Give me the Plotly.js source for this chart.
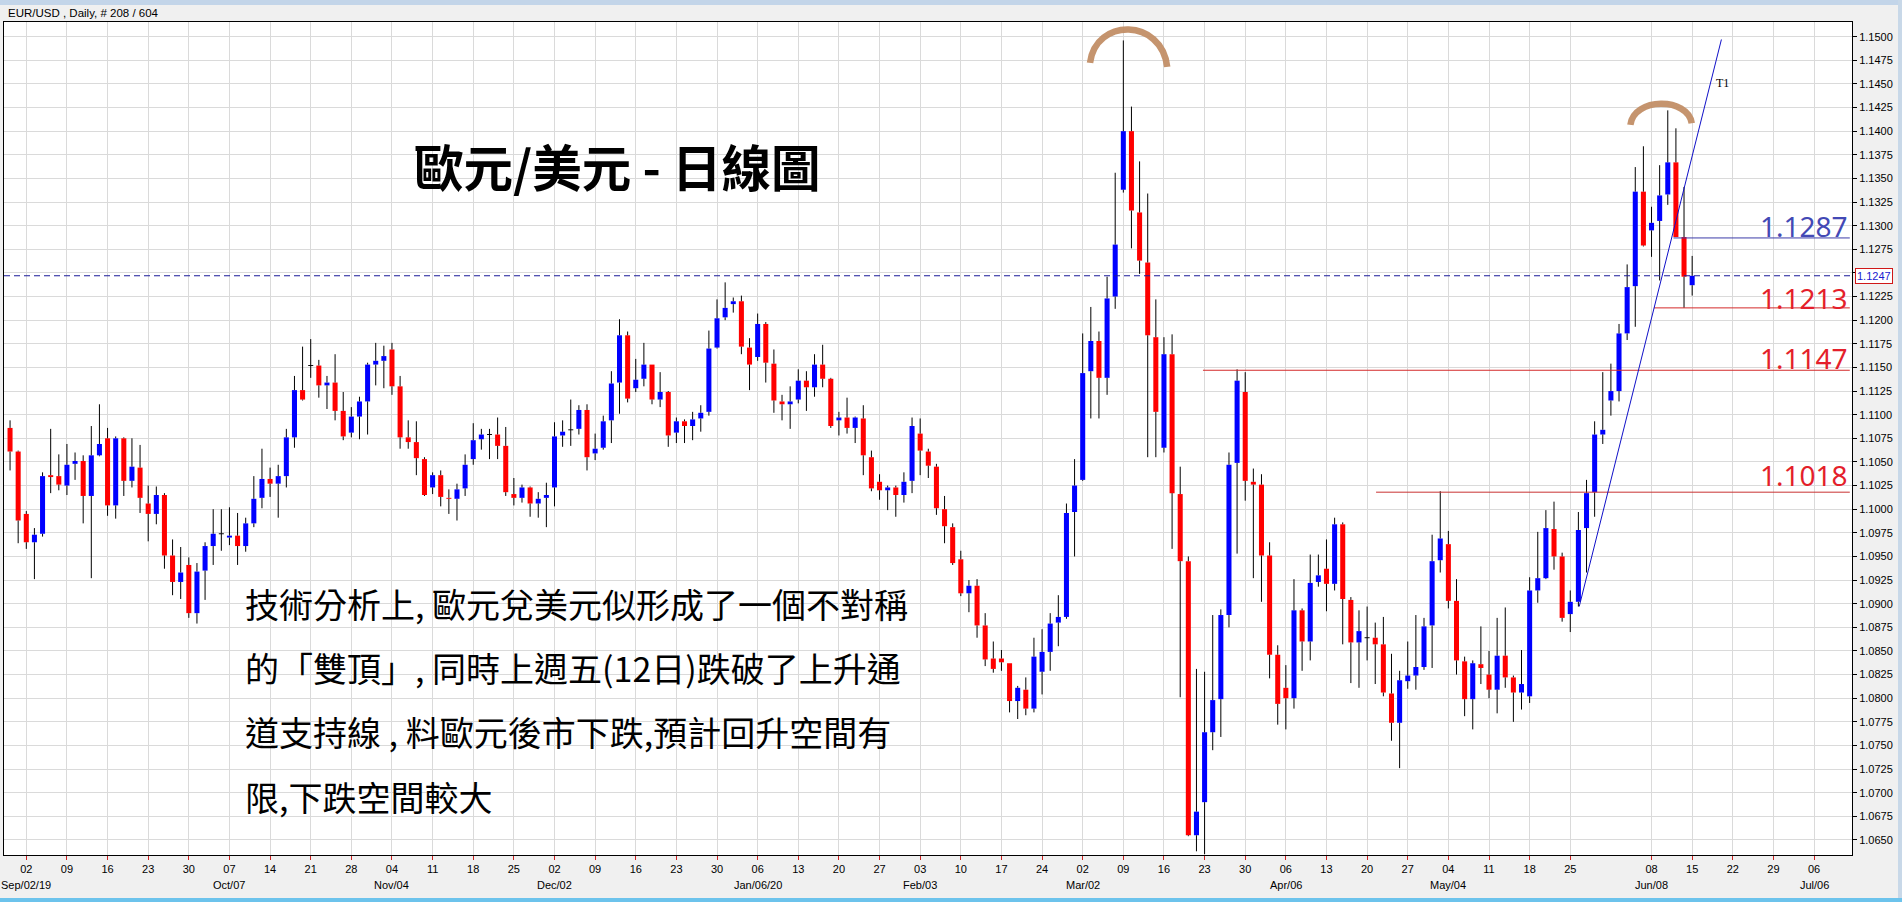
<!DOCTYPE html>
<html>
<head>
<meta charset="utf-8">
<script src="https://cdn.plot.ly/plotly-3.0.1.min.js"></script>
<style>
html,body{margin:0;padding:0;background:#f0f0f0;overflow:hidden;width:1902px;height:902px;}
#chart{position:absolute;left:0;top:0;width:1902px;height:902px;}
#topbar{position:absolute;left:0;top:0;width:1902px;height:5px;background:#c3d5e9;}
#rightbar{position:absolute;right:0;top:0;width:4px;height:902px;background:#c8d8e8;}
#bottombar{position:absolute;left:0;bottom:0;width:1902px;height:4px;background:#6cc3ec;}
</style>
</head>
<body>
<div id="chart"></div>
<div id="topbar"></div>
<div id="rightbar"></div>
<div id="bottombar"></div>
<script>
// ---- DATA (EUR/USD daily, first candle = Thu 2019-08-29, trading-day index -2) ----
const firstIndex = -2;
const openP = [
1.1086,1.1061,1.0995,1.0965,1.0974,1.1036,1.1035,1.1025,1.1048,1.1051,
1.1014,1.1057,1.1075,1.1004,1.1075,1.1030,1.1044,1.1006,1.0995,1.1015,
1.0951,1.0923,1.0941,1.0890,1.0935,1.0961,1.0974,1.0970,1.0972,1.0961,
1.0985,1.1012,1.1032,1.1027,1.1035,1.1076,1.1126,1.1152,1.1152,1.1131,
1.1134,1.1104,1.1081,1.1098,1.1114,1.1153,1.1157,1.1169,1.1130,1.1076,
1.1071,1.1053,1.1023,1.1036,1.1012,1.1011,1.1022,1.1053,1.1074,1.1079,
1.1079,1.1067,1.1016,1.1012,1.1023,1.1006,1.1012,1.1023,1.1078,1.1084,
1.1085,1.1105,1.1059,1.1065,1.1094,1.1134,1.1184,1.1128,1.1138,1.1153,
1.1116,1.1124,1.1081,1.1093,1.1088,1.1096,1.1103,1.1171,1.1203,1.1217,
1.1220,1.1171,1.1161,1.1196,1.1154,1.1114,1.1111,1.1116,1.1136,1.1129,
1.1153,1.1138,1.1094,1.1097,1.1086,1.1096,1.1055,1.1029,1.1020,1.1023,
1.1015,1.1030,1.1080,1.1061,1.1045,1.1000,1.0981,1.0947,1.0911,1.0919,
1.0877,1.0842,1.0842,1.0837,1.0797,1.0809,1.0789,1.0828,1.0849,1.0880,
1.0886,1.0997,1.1031,1.1146,1.1178,1.1139,1.1225,1.1338,1.1400,1.1314,
1.1261,1.1182,1.1065,1.1164,1.1016,1.0945,1.0655,1.0690,1.0764,1.0799,
1.0888,1.1049,1.1124,1.1029,1.1026,1.0951,1.0846,1.0811,1.0800,1.0893,
1.0860,1.0923,1.0937,1.0921,1.0984,1.0904,1.0859,1.0864,1.0864,1.0857,
1.0805,1.0774,1.0818,1.0824,1.0833,1.0877,1.0946,1.0963,1.0903,1.0839,
1.0799,1.0836,1.0825,1.0809,1.0845,1.0822,1.0806,1.0802,1.0914,1.0927,
1.0979,1.0950,1.0889,1.0902,1.0980,1.1018,1.1079,1.1115,1.1125,1.1186,
1.1236,1.1336,1.1295,1.1305,1.1333,1.1367,1.1288,1.1237];
const highP = [
1.1094,1.1062,1.0998,1.0980,1.1039,1.1085,1.1058,1.1069,1.1060,1.1057,
1.1088,1.1111,1.1086,1.1077,1.1076,1.1075,1.1068,1.1025,1.1024,1.1017,
1.0968,1.0960,1.0949,1.0943,1.0965,1.1000,1.1000,1.1002,1.0996,1.0991,
1.1035,1.1064,1.1044,1.1047,1.1085,1.1141,1.1172,1.1180,1.1158,1.1141,
1.1164,1.1124,1.1108,1.1119,1.1155,1.1176,1.1173,1.1176,1.1141,1.1094,
1.1093,1.1055,1.1039,1.1041,1.1021,1.1027,1.1058,1.1091,1.1085,1.1085,
1.1097,1.1087,1.1033,1.1026,1.1024,1.1018,1.1028,1.1092,1.1094,1.1116,
1.1110,1.1111,1.1080,1.1099,1.1146,1.1201,1.1188,1.1159,1.1176,1.1153,
1.1145,1.1125,1.1097,1.1095,1.1103,1.1110,1.1189,1.1222,1.1240,1.1224,
1.1226,1.1181,1.1207,1.1198,1.1169,1.1121,1.1130,1.1148,1.1146,1.1164,
1.1174,1.1139,1.1103,1.1118,1.1098,1.1110,1.1062,1.1037,1.1025,1.1025,
1.1039,1.1097,1.1096,1.1064,1.1048,1.1014,1.0985,1.0956,1.0925,1.0926,
1.0890,1.0860,1.0851,1.0837,1.0813,1.0822,1.0864,1.0873,1.0890,1.0909,
1.1006,1.1053,1.1186,1.1214,1.1188,1.1246,1.1356,1.1496,1.1426,1.1368,
1.1334,1.1222,1.1182,1.1185,1.1045,1.0950,1.0831,1.0828,1.0888,1.0894,
1.1060,1.1148,1.1145,1.1043,1.1037,1.0965,1.0856,1.0835,1.0926,1.0895,
1.0952,1.0952,1.0968,1.0991,1.0986,1.0907,1.0893,1.0897,1.0880,1.0886,
1.0847,1.0829,1.0860,1.0888,1.0885,1.0973,1.1019,1.0977,1.0926,1.0844,
1.0840,1.0876,1.0850,1.0885,1.0896,1.0824,1.0851,1.0928,1.0976,1.0999,
1.1008,1.0954,1.0914,1.0997,1.1031,1.1093,1.1145,1.1154,1.1196,1.1259,
1.1362,1.1384,1.1320,1.1364,1.1422,1.1403,1.1341,1.1268];
const lowP = [
1.1041,1.0964,1.0958,1.0926,1.0971,1.1017,1.1020,1.1015,1.1031,1.0985,
1.0927,1.1056,1.0993,1.0990,1.1014,1.1023,1.0996,1.0966,1.0984,1.0937,
1.0909,1.0905,1.0885,1.0879,1.0904,1.0941,1.0956,1.0962,1.0941,1.0955,
1.0981,1.1001,1.1013,1.0991,1.1023,1.1065,1.1115,1.1139,1.1118,1.1106,
1.1094,1.1073,1.1076,1.1074,1.1079,1.1131,1.1128,1.1121,1.1064,1.1064,
1.1036,1.1014,1.1016,1.1003,1.0995,1.0988,1.1014,1.1047,1.1063,1.1053,
1.1053,1.1014,1.1004,1.1007,1.0992,1.0991,1.0981,1.1003,1.1066,1.1067,
1.1079,1.1041,1.1052,1.1063,1.1070,1.1101,1.1113,1.1124,1.1130,1.1111,
1.1108,1.1066,1.1070,1.1070,1.1073,1.1082,1.1099,1.1170,1.1200,1.1208,
1.1164,1.1126,1.1157,1.1134,1.1102,1.1094,1.1085,1.1112,1.1104,1.1119,
1.1129,1.1086,1.1078,1.1080,1.1070,1.1036,1.1019,1.1010,1.0999,1.0992,
1.1007,1.1017,1.1036,1.1033,1.0994,1.0964,1.0941,1.0908,1.0891,1.0864,
1.0834,1.0827,1.0829,1.0785,1.0778,1.0782,1.0785,1.0804,1.0829,1.0855,
1.0884,1.0950,1.1030,1.1096,1.1096,1.1121,1.1212,1.1335,1.1276,1.1249,
1.1055,1.1055,1.1060,1.0958,1.0801,1.0654,1.0638,1.0635,1.0745,1.0759,
1.0875,1.0953,1.1009,1.0927,1.0902,1.0821,1.0772,1.0767,1.0789,1.0829,
1.0840,1.0918,1.0892,1.0914,1.0857,1.0816,1.0811,1.0840,1.0815,1.0802,
1.0755,1.0726,1.0810,1.0809,1.0830,1.0832,1.0933,1.0895,1.0825,1.0781,
1.0767,1.0815,1.0800,1.0784,1.0811,1.0775,1.0788,1.0795,1.0901,1.0926,
1.0936,1.0881,1.0870,1.0897,1.0933,1.0992,1.1069,1.1099,1.1114,1.1179,
1.1193,1.1278,1.1267,1.1242,1.1322,1.1288,1.1213,1.1226];
const closeP = [
1.1061,1.0988,1.0965,1.0973,1.1035,1.1034,1.1026,1.1047,1.1051,1.1014,
1.1057,1.1069,1.1004,1.1075,1.1030,1.1045,1.1012,1.0995,1.1015,1.0951,
1.0923,1.0933,1.0890,1.0934,1.0961,1.0974,1.0974,1.0972,1.0961,1.0985,
1.1011,1.1032,1.1027,1.1035,1.1076,1.1126,1.1116,1.1152,1.1131,1.1134,
1.1104,1.1077,1.1098,1.1114,1.1153,1.1157,1.1162,1.1130,1.1076,1.1071,
1.1054,1.1015,1.1036,1.1013,1.1011,1.1021,1.1047,1.1073,1.1079,1.1079,
1.1067,1.1018,1.1012,1.1023,1.1006,1.1011,1.1015,1.1077,1.1082,1.1084,
1.1105,1.1055,1.1064,1.1093,1.1133,1.1184,1.1117,1.1137,1.1153,1.1116,
1.1124,1.1078,1.1093,1.1088,1.1095,1.1102,1.1170,1.1202,1.1213,1.1220,
1.1172,1.1153,1.1196,1.1155,1.1115,1.1111,1.1114,1.1136,1.1129,1.1153,
1.1138,1.1088,1.1097,1.1086,1.1097,1.1057,1.1022,1.1020,1.1023,1.1015,
1.1029,1.1088,1.1062,1.1046,1.1001,1.0982,1.0943,1.0911,1.0919,1.0877,
1.0841,1.0831,1.0838,1.0797,1.0811,1.0789,1.0844,1.0849,1.0879,1.0886,
1.0996,1.1025,1.1144,1.1178,1.1139,1.1223,1.1280,1.1400,1.1316,1.1263,
1.1184,1.1103,1.1164,1.1017,1.0945,1.0655,1.0680,1.0764,1.0798,1.0888,
1.1047,1.1136,1.1030,1.1026,1.0951,1.0846,1.0794,1.0800,1.0893,1.0860,
1.0922,1.0930,1.0921,1.0984,1.0905,1.0859,1.0871,1.0864,1.0857,1.0806,
1.0774,1.0819,1.0824,1.0833,1.0876,1.0945,1.0969,1.0903,1.0840,1.0799,
1.0837,1.0832,1.0809,1.0845,1.0822,1.0806,1.0815,1.0914,1.0927,1.0980,
1.0950,1.0885,1.0902,1.0978,1.1017,1.1079,1.1084,1.1125,1.1186,1.1235,
1.1336,1.1279,1.1303,1.1332,1.1367,1.1288,1.1246,1.1247];

// horizontal levels drawn on the chart: [price, start index, colour]
const levelValues = [1.1287, 1.1213, 1.1147, 1.1018];
const levelStarts = [202.7, 200.3, 144.8, 166.1];
const levelColors = ['#3c3ca8', '#d42a2a', '#d42a2a', '#c83232'];
const levelTextColors = ['#4349b5', '#e41f2b', '#e41f2b', '#e41f2b'];
const levelTextShift = [12, 10, 12, 17];
const currentPrice = 1.1247;
// trend line T1: [index, price]
const trendStart = [191.1, 1.0897];
const trendEnd = [208.6, 1.1497];
const monthNames = ['Jan','Feb','Mar','Apr','May','Jun','Jul','Aug','Sep','Oct','Nov','Dec'];
const skippedWeeks = ['2020-06-01'];
const lastTickIndex = 220;

const titleText = '歐元/美元 - 日線圖';
const bodyLines = [
  '技術分析上, 歐元兌美元似形成了一個不對稱',
  '的「雙頂」, 同時上週五(12日)跌破了上升通',
  '道支持線 , 料歐元後市下跌,預計回升空間有',
  '限,下跌空間較大'
];

// ---- helpers ----
function dateOf(i){ const w=Math.floor(i/5), r=i-5*w; return new Date(Date.UTC(2019,8,2+7*w+r)); }
function iso(d){ return d.toISOString().slice(0,10); }
const N = openP.length;
const xs = openP.map((_,k)=>k+firstIndex);

// ticks
const tickvals=[], ticktext=[], monthAnn=[];
let lastMonth=-1, firstTick=true;
for(let i=0;i<=lastTickIndex;i+=5){
  const d=dateOf(i);
  if(skippedWeeks.includes(iso(d))) continue;
  const dd=String(d.getUTCDate()).padStart(2,'0');
  tickvals.push(i); ticktext.push(dd);
  const m=d.getUTCMonth();
  if(m!==lastMonth){
    let lbl=monthNames[m]+'/'+dd;
    if(firstTick||m===0) lbl+='/'+String(d.getUTCFullYear()).slice(2);
    monthAnn.push({x:i,label:lbl});
    lastMonth=m; firstTick=false;
  }
}

// wicks (black), split so they don't cross the bodies
const wx=[], wy=[];
const bx=[], bbase=[], bh=[], bcol=[];
for(let k=0;k<N;k++){
  const x=xs[k], o=openP[k], c=closeP[k], h=highP[k], l=lowP[k];
  const top=Math.max(o,c), bot=Math.min(o,c);
  wx.push(x,x,null,x,x,null); wy.push(h,top,null,bot,l,null);
  const diff=top-bot;
  bx.push(x);
  if(diff<0.00009){
    const mid=(top+bot)/2;
    bbase.push(mid-0.00005); bh.push(0.0001);
    bcol.push(diff<0.00002 ? '#000000' : (c>o?'#0000ff':'#ff0000'));
  } else {
    bbase.push(bot); bh.push(diff); bcol.push(c>o?'#0000ff':'#ff0000');
  }
}

const L=4, R=50, T=22, B=47, W=1902, H=902;
const pw=W-L-R, ph=H-T-B;
function px2paperY(py){ return (H-B-py)/ph; }
function px2paperX(px){ return (px-L)/pw; }

const traces=[
  {type:'scatter',mode:'lines',x:wx,y:wy,line:{color:'#000000',width:1},hoverinfo:'skip',showlegend:false},
  {type:'bar',x:bx,y:bh,base:bbase,width:0.62,marker:{color:bcol,line:{width:0}},hoverinfo:'skip',showlegend:false}
];

const shapes=[];
// dashed current price line
shapes.push({type:'line',xref:'paper',yref:'y',x0:0,x1:1,y0:currentPrice,y1:currentPrice,line:{color:'#1a1a9a',width:1,dash:'6px,4px'},layer:'above'});
// level lines
const xEnd=224.4;
levelValues.forEach((v,k)=>{
  shapes.push({type:'line',xref:'x',yref:'y',x0:levelStarts[k],x1:xEnd,y0:v,y1:v,line:{color:levelColors[k],width:1},layer:'above'});
});
// trend line
shapes.push({type:'line',xref:'x',yref:'y',x0:trendStart[0],y0:trendStart[1],x1:trendEnd[0],y1:trendEnd[1],line:{color:'#1010c8',width:1},layer:'above'});
// hand-drawn arcs over the two tops
const arcColor='rgba(194,142,102,0.95)';
shapes.push({type:'path',xref:'x',yref:'y',path:'M 130.9,1.14722 C 131.6,1.15200 139.7,1.15200 140.4,1.14680',line:{color:arcColor,width:6.5},layer:'above'});
shapes.push({type:'path',xref:'x',yref:'y',path:'M 197.4,1.14066 C 197.8,1.14360 204.5,1.14360 204.95,1.14084',line:{color:arcColor,width:6.5},layer:'above'});

const annotations=[];
annotations.push({xref:'paper',yref:'paper',x:px2paperX(6),y:px2paperY(13),xanchor:'left',yanchor:'middle',showarrow:false,
  text:'EUR/USD , Daily, # 208 / 604',font:{family:'Liberation Sans, Arial, sans-serif',size:11.5,color:'#000'}});
monthAnn.forEach(m=>annotations.push({xref:'x',yref:'paper',x:m.x,y:px2paperY(885),xanchor:'center',yanchor:'middle',showarrow:false,
  text:m.label,font:{family:'Liberation Sans Narrow, Arial Narrow, Liberation Sans, sans-serif',size:11,color:'#000'}}));
levelValues.forEach((v,k)=>annotations.push({xref:'paper',yref:'y',x:px2paperX(1850),y:v,yshift:levelTextShift[k],xanchor:'right',yanchor:'middle',showarrow:false,
  text:v.toFixed(4),font:{family:'Noto Sans, sans-serif',size:28,color:levelTextColors[k]}}));
annotations.push({xref:'paper',yref:'y',x:1,xshift:3,y:currentPrice,xanchor:'left',yanchor:'middle',showarrow:false,
  text:currentPrice.toFixed(4),font:{family:'Liberation Sans, Arial, sans-serif',size:11,color:'#1a1ad0'},
  bgcolor:'#ffffff',bordercolor:'#d01818',borderwidth:1,borderpad:1});
annotations.push({xref:'x',yref:'y',x:208.2,y:1.1451,xanchor:'left',yanchor:'middle',showarrow:false,xshift:-4,
  text:'T1',font:{family:'Liberation Serif, DejaVu Serif, serif',size:12,color:'#000'}});
annotations.push({xref:'paper',yref:'paper',x:px2paperX(617),y:px2paperY(165),xanchor:'center',yanchor:'middle',showarrow:false,
  text:titleText,font:{family:'Noto Sans CJK TC, sans-serif',size:49.5,weight:700,color:'#000'}});
const lineY=[603,667,731,796];
bodyLines.forEach((t,k)=>annotations.push({xref:'paper',yref:'paper',x:px2paperX(243),y:px2paperY(lineY[k]),xanchor:'left',yanchor:'middle',showarrow:false,
  text:t,font:{family:'Noto Sans CJK TC, sans-serif',size:34,color:'#000'}}));

const layout={
  width:W,height:H,margin:{l:L,r:R,t:T,b:B},
  paper_bgcolor:'#f0f0f0',plot_bgcolor:'#ffffff',
  showlegend:false,hovermode:false,barmode:'overlay',
  xaxis:{range:[-2.744,224.67],tickmode:'array',tickvals:tickvals,ticktext:ticktext,
    showgrid:true,gridcolor:'#dadada',gridwidth:1,zeroline:false,
    showline:true,mirror:true,linecolor:'#000',linewidth:1,
    ticks:'outside',ticklen:4,tickcolor:'#cc2222',
    tickfont:{family:'Liberation Sans Narrow, Arial Narrow, Liberation Sans, sans-serif',size:11,color:'#000'},fixedrange:true},
  yaxis:{range:[1.06341,1.15155],side:'right',tick0:1.15,dtick:0.0025,tickformat:'.4f',
    showgrid:true,gridcolor:'#dadada',gridwidth:1,zeroline:false,
    showline:true,mirror:true,linecolor:'#000',linewidth:1,
    ticks:'outside',ticklen:4,tickcolor:'#000',
    tickfont:{family:'Liberation Sans, Arial, sans-serif',size:11,color:'#000'},fixedrange:true},
  shapes:shapes,annotations:annotations
};
Plotly.newPlot('chart',traces,layout,{displayModeBar:false,staticPlot:true});
</script>
</body>
</html>
